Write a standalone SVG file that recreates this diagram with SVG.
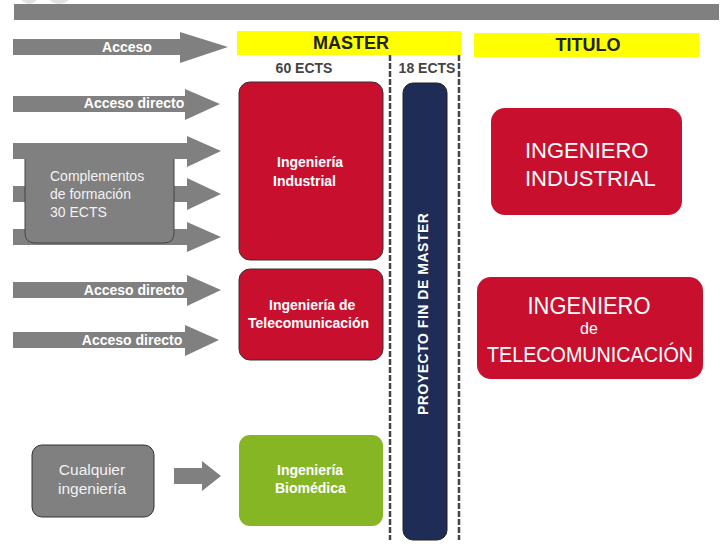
<svg xmlns="http://www.w3.org/2000/svg" width="725" height="552" viewBox="0 0 725 552">
<style>
.arr{fill:#808080}
.at{font-family:"Liberation Sans",Arial,sans-serif;font-weight:bold;fill:#fff;text-anchor:middle}
.hd{font-family:"Liberation Sans",Arial,sans-serif;font-weight:bold;fill:#222;text-anchor:middle;font-size:18px}
.ec{font-family:"Liberation Sans",Arial,sans-serif;font-weight:bold;fill:#444;text-anchor:middle;font-size:14px}
.bt{font-family:"Liberation Sans",Arial,sans-serif;font-weight:bold;fill:#fff;font-size:14px}
.nt{font-family:"Liberation Sans",Arial,sans-serif;fill:#f2f2f2}
.rt{font-family:"Liberation Sans",Arial,sans-serif;fill:#fff}
.mid{text-anchor:middle}
.red{fill:#c8102e}
.dash{stroke:#444;stroke-width:2.5;stroke-dasharray:6,2;fill:none}
</style>
<rect width="725" height="552" fill="#fff"/>
<ellipse cx="29" cy="-5" rx="9" ry="9" fill="#e2e2e2"/>
<ellipse cx="59" cy="-9" rx="13" ry="13" fill="#e2e2e2"/>
<rect x="14" y="4" width="705" height="16" fill="#808080"/>

<g id="master-header">
<rect x="237" y="31" width="224" height="24" fill="#ffff00"/>
<text class="hd" x="351" y="49">MASTER</text>
</g>
<g id="titulo-header">
<rect x="474" y="33" width="225" height="24" fill="#ffff00"/>
<text class="hd" x="588" y="51">TITULO</text>
</g>
<text class="ec" x="304" y="73">60 ECTS</text>
<text class="ec" x="427" y="73">18 ECTS</text>
<line class="dash" x1="390" y1="55" x2="390" y2="540"/>
<line class="dash" x1="459" y1="55" x2="459" y2="540"/>

<g id="connectors">
<polygon class="arr" points="13,39 180,39 180,32 228,47 180,63 180,55 13,55"/>
<polygon class="arr" points="13,96 185,96 185,89 220,104 185,120 185,112 13,112"/>
<polygon class="arr" points="13,143 187,143 187,136 221,151 187,167 187,159 13,159"/>
<polygon class="arr" points="13,186 187,186 187,178 221,194 187,210 187,202 13,202"/>
<polygon class="arr" points="13,229 187,229 187,222 221,237 187,252 187,245 13,245"/>
<polygon class="arr" points="13,282 187,282 187,275 221,290 187,306 187,298 13,298"/>
<polygon class="arr" points="13,332 185,332 185,325 219,340 185,356 185,348 13,348"/>
<polygon class="arr" points="174,468 202,468 202,461 221,476 202,491 202,484 174,484"/>
<text class="at" x="127" y="52" font-size="14">Acceso</text>
<text class="at" x="134" y="108" font-size="14">Acceso directo</text>
<text class="at" x="134" y="295" font-size="14">Acceso directo</text>
<text class="at" x="132" y="345" font-size="14">Acceso directo</text>
</g>

<g id="complementos">
<path d="M25,143 H174 V233 Q174,243 164,243 H35 Q25,243 25,233 Z" fill="#808080"/>
<path d="M25,159 V233 Q25,243 35,243 H164 Q174,243 174,233 V159" fill="none" stroke="#444" stroke-width="1"/>
<text class="nt" x="50" y="181" font-size="14">Complementos</text>
<text class="nt" x="50" y="199" font-size="14">de formación</text>
<text class="nt" x="50" y="217" font-size="14">30 ECTS</text>
</g>

<g id="cualquier">
<rect x="32" y="445" width="122" height="72" rx="10" fill="#808080" stroke="#333" stroke-width="1"/>
<text class="nt mid" x="92" y="475" font-size="15.5">Cualquier</text>
<text class="nt mid" x="92" y="494" font-size="15.5">ingeniería</text>
</g>

<g id="ing-industrial">
<rect class="red" x="239" y="82" width="144" height="178" rx="11" stroke="#333" stroke-width="1"/>
<text class="bt" x="277" y="167">Ingeniería</text>
<text class="bt" x="273" y="186">Industrial</text>
</g>

<g id="ing-telecom">
<rect class="red" x="239" y="269" width="144" height="91" rx="11" stroke="#333" stroke-width="1"/>
<text class="bt" x="269" y="310">Ingeniería de</text>
<text class="bt" x="248" y="328">Telecomunicación</text>
</g>

<g id="ing-biomedica">
<rect x="239" y="435" width="144" height="91" rx="11" fill="#87b625"/>
<text class="bt" x="277" y="475">Ingeniería</text>
<text class="bt" x="275" y="493">Biomédica</text>
</g>

<g id="proyecto">
<rect x="403" y="83" width="44" height="457" rx="10" fill="#1f2d56" stroke="#222" stroke-width="1"/>
<text class="bt mid" transform="translate(428,314) rotate(-90)" font-size="12.5" textLength="202" lengthAdjust="spacing">PROYECTO FIN DE MASTER</text>
</g>

<g id="titulo-industrial">
<rect class="red" x="491" y="108" width="191" height="107" rx="14"/>
<text class="rt" x="525" y="158" font-size="22">INGENIERO</text>
<text class="rt" x="525" y="186" font-size="22">INDUSTRIAL</text>
</g>

<g id="titulo-telecom">
<rect class="red" x="477" y="277" width="226" height="102" rx="14"/>
<text class="rt mid" x="589" y="314" font-size="24" textLength="123" lengthAdjust="spacingAndGlyphs">INGENIERO</text>
<text class="rt mid" x="589" y="334" font-size="16">de</text>
<text class="rt mid" x="590" y="362" font-size="22" textLength="206" lengthAdjust="spacingAndGlyphs">TELECOMUNICACIÓN</text>
</g>
</svg>
